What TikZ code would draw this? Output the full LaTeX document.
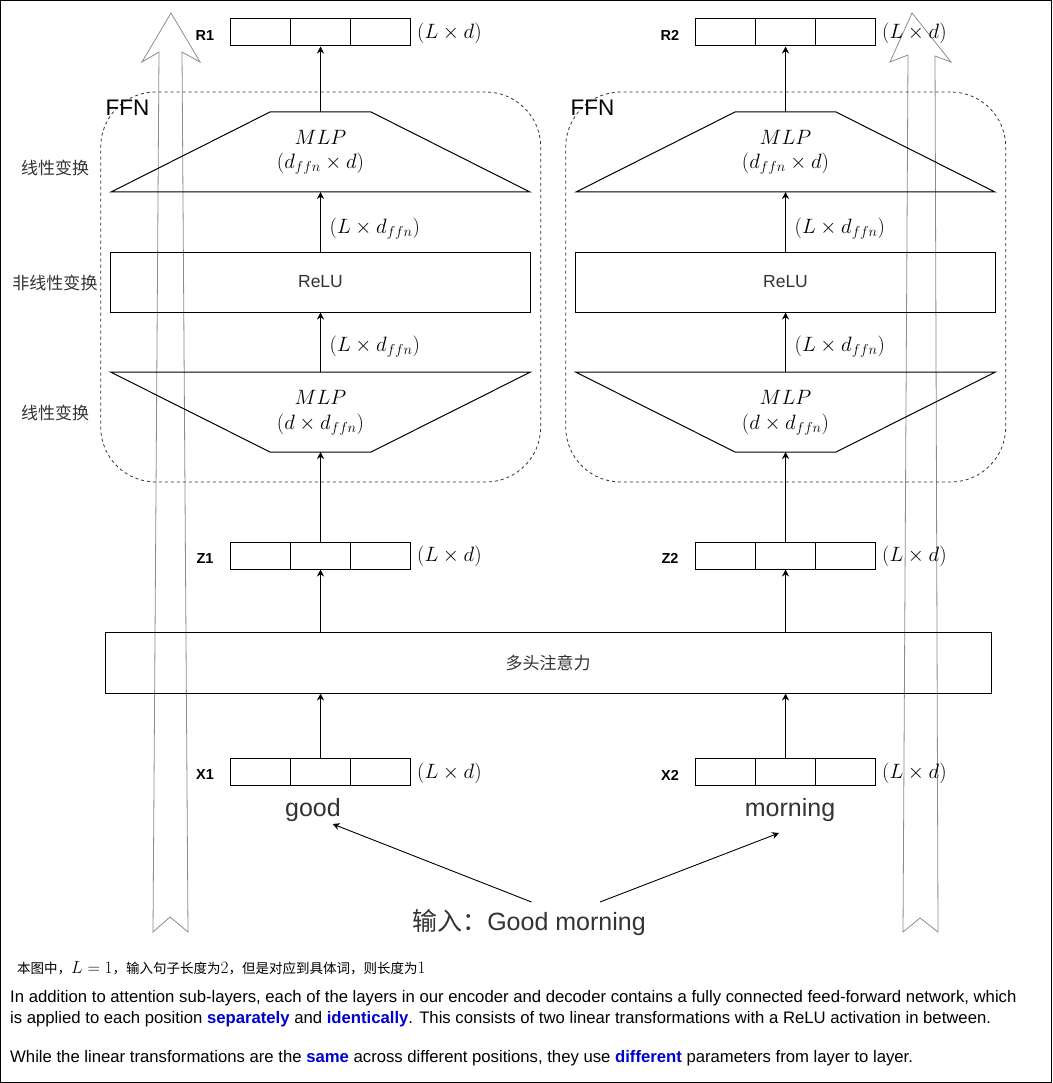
\documentclass[tikz,border=0pt]{standalone}
\usepackage{amsmath}
\usepackage[no-math]{fontspec}
\setmainfont{Liberation Sans}
\newfontfamily\cjk{Noto Sans CJK SC}
\usetikzlibrary{arrows.meta}

\definecolor{gristexte}{HTML}{333333}
\definecolor{grisfleche}{HTML}{8C8C8C}
\definecolor{bleuvif}{HTML}{0000CC}

\tikzset{
  vecteur/.style={draw, line width=1pt, minimum width=180pt, minimum height=27pt, inner sep=0pt},
  bloc/.style={draw, line width=1pt, minimum height=60pt, inner sep=0pt, text=gristexte},
  ffn/.style={draw=black!80, line width=0.8pt, dash pattern=on 3pt off 3pt, rounded corners=55pt,
    minimum width=440pt, minimum height=390pt, inner sep=0pt},
  nomvec/.style={font=\bfseries\fontsize{14.5}{17}\selectfont},
  dimtxt/.style={font=\fontsize{21.5}{25}\selectfont, inner sep=0pt},
  lateral/.style={text=gristexte, font=\cjk\fontsize{17}{20}\selectfont},
  fleche/.style={-{Stealth[length=7pt,width=7pt]}, line width=0.9pt},
  grosse/.style={draw=grisfleche, line width=0.8pt},
  mot/.style={text=gristexte, font=\fontsize{25}{30}\selectfont, inner sep=0pt},
  ligne/.style={anchor=base west, inner sep=0pt, font=\fontsize{16.7}{21}\selectfont},
}

\begin{document}
\begin{tikzpicture}[x=1pt, y=-1pt]
  \useasboundingbox (0,0) rectangle (1052,1083);
  % Cadre
  \draw[line width=1.2pt] (0.6,0.6) rectangle (1051.4,1082.4);

  % Grosses fleches (connexions residuelles)
  \draw[grosse] (153,932) -- (159,52) -- (142,62) -- (171,13) -- (200,62) -- (182,52) -- (188,932) -- (170,917) -- cycle;
  \draw[grosse] (903,932) -- (908,55) -- (890,62) -- (912,13) -- (951,62) -- (935,56) -- (938,932) -- (920,918) -- cycle;

  % Attention multi-tete (commune aux deux positions)
  \node[bloc, minimum width=886pt, minimum height=61pt, font=\cjk\fontsize{17}{20}\selectfont] (attn) at (548,662.5) {多头注意力};

  % Une colonne par position
  \foreach \i/\cx/\mot/\dx in {1/320.5/good/-7.5, 2/785.5/morning/4.5} {
    % Bloc FFN
    \node[ffn] (ffn\i) at (\cx+0.2,287) {};
    \node[font=\fontsize{22.5}{26}\selectfont, anchor=west, inner sep=0pt] (ffnlab\i) at (\cx-215,108) {FFN};

    % Vecteurs R, Z, X
    \node[vecteur] (R\i) at (\cx,32.5) {};
    \node[vecteur] (Z\i) at (\cx,555.5) {};
    \node[vecteur] (X\i) at (\cx,772) {};
    \foreach \v in {R,Z,X} {
      \draw[line width=1pt] ([xshift=-30pt]\v\i.north) -- ([xshift=-30pt]\v\i.south)
                            ([xshift=30pt]\v\i.north) -- ([xshift=30pt]\v\i.south);
      \node[nomvec] (n\v\i) at ([xshift=-115.5pt, yshift=-3pt]\v\i.center) {\v\i};
      \node[dimtxt, anchor=west] (d\v\i) at ([xshift=6pt, yshift=-1pt]\v\i.east) {$(L\times d)$};
    }

    % MLP haut
    \draw[line width=1pt] (\cx-50.5,112) -- (\cx+50.5,112) -- (\cx+209.5,192) -- (\cx-209.5,192) -- cycle;
    \coordinate (mlpHt\i) at (\cx,112);
    \coordinate (mlpHb\i) at (\cx,192);
    \node[dimtxt] (mlpH\i) at (\cx,137) {$MLP$};
    \node[dimtxt] (mlpHd\i) at (\cx,164) {$(d_{ffn}\times d)$};

    % ReLU
    \node[bloc, minimum width=420pt, font=\fontsize{17.5}{20}\selectfont] (relu\i) at (\cx,282) {ReLU};

    % MLP bas
    \draw[line width=1pt] (\cx-210,372) -- (\cx+210,372) -- (\cx+50.5,452) -- (\cx-50.5,452) -- cycle;
    \coordinate (mlpBt\i) at (\cx,372);
    \coordinate (mlpBb\i) at (\cx,452);
    \node[dimtxt] (mlpB\i) at (\cx,397) {$MLP$};
    \node[dimtxt] (mlpBd\i) at (\cx,425) {$(d\times d_{ffn})$};

    % Liaisons
    \draw[fleche] (X\i.north) -- (X\i.north |- attn.south);
    \draw[fleche] (attn.north -| Z\i) -- (Z\i.south);
    \draw[fleche] (Z\i.north) -- (mlpBb\i);
    \draw[fleche] (mlpBt\i) -- (relu\i.south);
    \draw[fleche] (relu\i.north) -- (mlpHb\i);
    \draw[fleche] (mlpHt\i) -- (R\i.south);
    \node[dimtxt, anchor=west] (lr\i) at (\cx+9,347) {$(L\times d_{ffn})$};
    \node[dimtxt, anchor=west] (lh\i) at (\cx+9,229) {$(L\times d_{ffn})$};

    % Mot
    \node[mot] (mot\i) at (\cx+\dx,810) {\mot};
  }

  % Etiquettes laterales
  \node[lateral] (lin1) at (55,168) {线性变换};
  \node[lateral] (nonlin) at (55,283) {非线性变换};
  \node[lateral] (lin2) at (55,413) {线性变换};

  % Entree
  \node[mot] (entree) at (529,923) {{\cjk 输入：}Good morning};
  \coordinate (depG) at (531.5,902);
  \coordinate (arrG) at (332.6,824);
  \coordinate (depD) at (600,902);
  \coordinate (arrD) at (779,833);
  \draw[fleche] (depG) -- (arrG);
  \draw[fleche] (depD) -- (arrD);

  % Remarque et texte
  \node[anchor=west, inner sep=0pt, font=\fontsize{16.3}{18}\selectfont] (remarque) at (17,968)
    {{\cjk\fontsize{13.5}{16}\selectfont 本图中，}$L=1${\cjk\fontsize{13.5}{16}\selectfont ，输入句子长度为}$2${\cjk\fontsize{13.5}{16}\selectfont ，但是对应到具体词，则长度为}$1$};
  \node[ligne] (texte1) at (10,1002) {In addition to attention sub-layers, each of the layers in our encoder and decoder contains a fully connected feed-forward network, which};
  \node[ligne] (texte2) at (10,1023) {is applied to each position \textcolor{bleuvif}{\textbf{separately}} and \textcolor{bleuvif}{\textbf{identically}}. This consists of two linear transformations with a ReLU activation in between.};
  \node[ligne] (texte3) at (10,1062) {While the linear transformations are the \textcolor{bleuvif}{\textbf{same}} across different positions, they use \textcolor{bleuvif}{\textbf{different}} parameters from layer to layer.};
\end{tikzpicture}
\end{document}
